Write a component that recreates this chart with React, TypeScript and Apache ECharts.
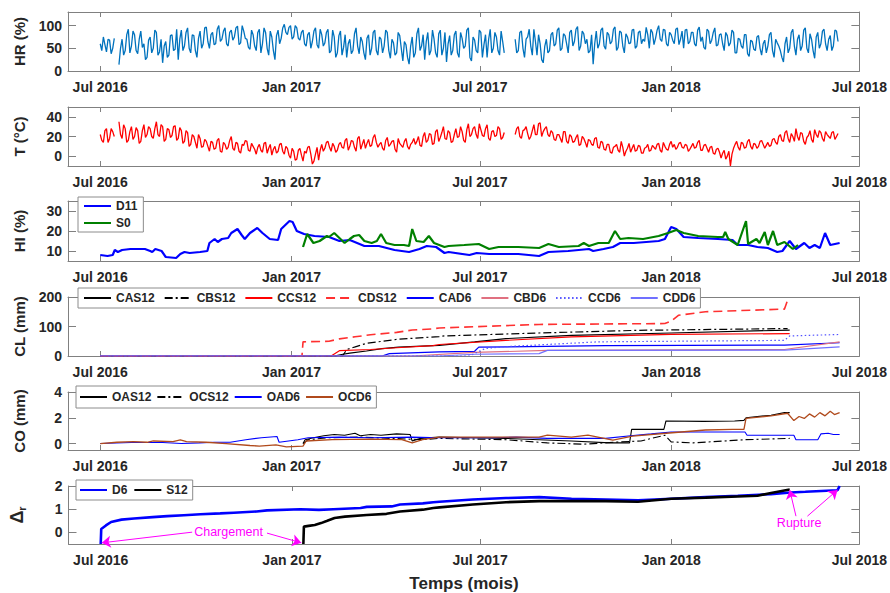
import React, { useEffect, useRef } from "react";
import * as echarts from "echarts";

// ---- x axis (days since 2016-07-01) ----
const X_MIN = -31;
const X_MAX = 730;
const X_TICK_DAYS = [0, 184, 365, 549, 730];
const X_TICK_LABELS = ["Jul 2016", "Jan 2017", "Jul 2017", "Jan 2018", "Jul 2018"];

// ---- HR (%) and T (°C): readings every 3 days from 2016-07-01 (A) and 1.5 days later (B) ----
const MET_START = 0;
const MET_STEP = 3;
const HR_A = [
  60, 75, 42, 68, 50, null, 14, 70, 45, 92,
  55, 80, 38, 88, 60, 30, 75, 50, 85, 42,
  18, 65, 35, 80, 48, 25, 90, 55, 95, 40,
  78, 30, 88, 60, 97, 50, 85, 60, 100, 70,
  95, 55, 90, 75, 99, 62, 88, 70, 48, 80,
  45, 92, 60, 85, 35, 75, 25, 90, 72, 103,
  80, 100, 75, 95, 68, 90, 55, 85, 65, 95,
  50, 80, 62, 92, 45, 75, 40, 88, 52, 30,
  70, 45, 95, 38, 65, 25, 80, 50, 90, 35,
  70, 55, 85, 28, 62, 40, 78, 22, 58, 15,
  75, 40, 95, 55, 25, 85, 45, 70, 30, 90,
  50, 20, 78, 45, 88, 30, 72, 55, 95, 22,
  68, 40, 85, 58, 30, 92, 50, 75, 35, 65,
  null, null, null, 70, 45, 88, 30, 75, 55, 92,
  35, 60, 18, 70, 45, 85, 60, 95, 50, 78,
  40, 90, 65, 98, 55, 82, 70, 45, 15, 88,
  60, 95, 48, 80, 65, 97, 52, 85, 40, 75,
  62, 92, 55, 88, 70, 96, 50, 85, 72, 100,
  65, 90, 55, 80, 60, 95, 70, 50, 92, 65,
  85, 55, 97, 75, 48, 88, 68, 95, 58, 82,
  45, 78, 62, 85, 40, 70, 50, 80, 32, 65,
  45, 78, 35, 68, 55, 85, 30, 62, 45, 20,
  75, 50, 92, 35, 80, 55, 95, 40, 70, 28,
  85, 60, 92, 45, 78, 55, 88,
];
const HR_B = [
  45, 58, 70, 38, 72, null, 50, 35, 80, 40,
  88, 45, 70, 52, 25, 68, 40, 90, 35, 70,
  55, 30, 78, 45, 92, 70, 45, 85, 50, 80,
  45, 72, 50, 95, 65, 80, 58, 92, 65, 88,
  60, 85, 68, 95, 58, 100, 72, 52, 90, 55,
  85, 40, 95, 50, 88, 45, 78, 60, 95, 85,
  96, 70, 100, 72, 85, 60, 80, 50, 88, 58,
  92, 55, 85, 40, 90, 30, 78, 35, 80, 60,
  38, 82, 55, 75, 40, 72, 35, 85, 45, 75,
  40, 90, 45, 70, 35, 85, 50, 65, 30, 55,
  30, 82, 45, 80, 65, 35, 90, 40, 82, 35,
  85, 60, 35, 80, 40, 85, 50, 90, 30, 75,
  45, 90, 30, 80, 70, 40, 85, 45, 88, 40,
  null, null, null, 40, 85, 50, 70, 92, 35, 65,
  80, 25, 55, 40, 80, 55, 90, 45, 82, 60,
  85, 55, 92, 45, 88, 60, 40, 80, 60, 50,
  90, 55, 85, 60, 92, 45, 88, 55, 82, 60,
  90, 50, 85, 60, 65, 80, 92, 58, 90, 70,
  92, 60, 85, 68, 92, 58, 88, 90, 60, 85,
  60, 90, 65, 52, 92, 60, 85, 55, 80, 60,
  85, 55, 90, 40, 72, 55, 80, 38, 68, 48,
  75, 50, 60, 40, 80, 45, 70, 55, 30, 60,
  40, 85, 55, 70, 45, 90, 50, 82, 45, 75,
  50, 88, 60, 70, 45, 90, 65,
];
const T_A = [
  22, 14, 28, 18, 25, null, 35, 18, 28, 16,
  30, 20, 26, 15, 32, 22, 28, 18, 35, 20,
  30, 17, 27, 21, 31, 18, 26, 15, 24, 12,
  20, 8, 18, 10, 15, 5, 14, 8, 18, 4,
  12, 9, 20, 6, 13, 3, 11, 15, 5, 10,
  2, 12, 4, 14, 8, 1, 10, 5, 13, 2,
  8, -2, 5, -3, 8, -5, 3, 10, -8, 2,
  -4, 12, 8, 15, 5, 10, 6, 14, 8, 18,
  10, 15, 5, 20, 12, 8, 17, 11, 22, 9,
  14, 6, 19, 12, 16, 4, 13, 9, 18, 7,
  14, 12, 20, 10, 24, 16, 22, 13, 27, 19,
  30, 17, 24, 15, 28, 20, 25, 14, 33, 22,
  30, 18, 27, 20, 32, 16, 26, 21, 28, 19,
  null, null, null, 22, 30, 18, 27, 23, 20, 32,
  22, 34, 25, 30, 20, 24, 16, 22, 14, 25,
  13, 20, 15, 22, 12, 18, 9, 16, 11, 19,
  8, 14, 6, 12, 3, 10, 6, 15, 0, 8,
  4, 12, 6, 10, 3, 9, 5, 11, 7, 13,
  4, 10, 6, 15, 12, 9, 14, 8, 11, 7,
  13, 9, 16, 6, 12, 4, 10, 2, 8, -2,
  6, 0, -10, 8, 15, 6, 13, 9, 17, 7,
  12, 10, 16, 8, 14, 11, 18, 12, 22, 15,
  26, 14, 20, 28, 16, 23, 12, 21, 17, 27,
  19, 24, 15, 22, 18, 25, 20,
];
const T_B = [
  16, 26, 14, 28, 20, null, 22, 32, 14, 25,
  17, 29, 13, 26, 19, 30, 20, 28, 22, 32,
  15, 28, 19, 30, 16, 29, 13, 26, 10, 22,
  14, 22, 9, 17, 10, 15, 7, 16, 5, 14,
  7, 16, 8, 14, 5, 12, 16, 6, 13, 7,
  9, 6, 13, 3, 12, 7, 3, 12, 5, 10,
  1, 8, -4, 6, 1, 5, 9, 2, -5, 9,
  6, 5, 14, 9, 13, 4, 12, 9, 16, 6,
  16, 9, 18, 7, 17, 13, 10, 19, 14, 12,
  8, 16, 10, 15, 7, 18, 11, 15, 10, 12,
  18, 15, 11, 20, 14, 23, 12, 25, 15, 24,
  18, 26, 14, 22, 19, 30, 16, 27, 20, 28,
  22, 33, 21, 28, 18, 25, 20, 30, 17, 24,
  null, null, null, 28, 20, 26, 30, 17, 26, 22,
  33, 20, 28, 22, 26, 17, 22, 18, 25, 15,
  22, 14, 19, 11, 20, 14, 17, 12, 18, 9,
  15, 7, 12, 4, 9, 12, 4, 9, 5, 13,
  8, 5, 11, 3, 8, 12, 6, 9, 12, 6,
  14, 7, 12, 9, 7, 13, 9, 12, 5, 10,
  8, 14, 6, 11, 8, 9, 3, 7, 4, 3,
  -3, 5, 2, 12, 9, 14, 8, 15, 10, 13,
  8, 15, 12, 11, 10, 17, 14, 20, 16, 24,
  18, 23, 15, 20, 24, 15, 19, 26, 14, 22,
  26, 18, 25, 20, 24, 17, 23,
];

// ---- HI (%) : [day, value] ----
const D11 = [
  [0, 8], [7, 7.5], [12, 8], [14, 10.5], [17, 9.5], [21, 10.5], [29, 11], [43, 11], [48, 10], [50, 9.5],
  [53, 11], [59, 10], [63, 7], [73, 6.5], [77, 8.5], [81, 9.5], [86, 9], [96, 9.5], [103, 10], [105, 14],
  [110, 16], [113, 14.5], [117, 16], [123, 16.5], [126, 19], [132, 21], [136, 18], [139, 16], [144, 19], [151, 21.5],
  [156, 19], [163, 16], [171, 15.5], [174, 21], [182, 25], [185, 24.5], [189, 20], [196, 18.5], [206, 17.5], [220, 17],
  [230, 15], [240, 15.5], [254, 12.5], [268, 12.5], [283, 10.5], [297, 9.5], [307, 11], [314, 12.5], [323, 12], [331, 9],
  [335, 9.5], [355, 8], [362, 9], [374, 8.5], [402, 8.5], [422, 7.5], [431, 9.5], [450, 10], [470, 11], [474, 10],
  [484, 11], [493, 12], [500, 14], [513, 14], [537, 15], [543, 16], [549, 22], [554, 21], [561, 17], [575, 16.5],
  [594, 16], [608, 15.5], [613, 13], [623, 13], [632, 12], [642, 11.5], [651, 9.5], [656, 10], [663, 15], [669, 11],
  [677, 14], [682, 11.5], [687, 13], [692, 11.5], [697, 19], [702, 13], [711, 14],
];
const S0 = [
  [195, 12], [199, 18.5], [205, 14], [211, 15], [218, 17.5], [220, 17], [225, 19], [230, 16.5], [235, 14], [240, 16],
  [244, 17.5], [249, 18], [254, 15], [261, 14], [266, 15], [270, 18.5], [275, 14], [283, 13], [292, 13], [297, 12.5],
  [300, 21], [304, 15], [311, 14.5], [316, 17.5], [321, 14], [331, 12], [335, 12.5], [350, 13], [364, 13.5], [374, 11],
  [383, 12], [402, 12], [422, 11.5], [431, 13.5], [441, 12], [460, 12.5], [465, 14], [470, 12.5], [479, 14], [489, 14],
  [495, 20], [500, 16], [508, 16.5], [522, 16], [537, 17.5], [546, 19], [554, 20.5], [561, 19], [575, 17.5], [594, 17],
  [599, 17], [601, 19.5], [604, 16], [613, 13], [621, 25], [623, 13.5], [631, 16], [634, 14], [639, 19.5], [642, 13],
  [647, 20], [651, 13], [658, 14.5], [666, 11], [671, 13],
];

// ---- CL (mm) ----
const CAS12 = [[0, 0], [225, 0], [232, 5], [240, 10], [256, 17], [271, 25], [287, 30], [326, 36], [360, 48], [390, 59], [453, 70], [549, 78], [663, 88]];
const CBS12 = [[0, 0], [233, 0], [237, 22], [246, 32], [256, 43], [287, 57], [326, 66], [331, 68], [422, 78], [517, 87], [661, 93]];
const CCS12 = [[0, 0], [222, 0], [230, 18], [260, 22], [285, 28], [320, 35], [326, 39], [390, 53], [453, 65], [549, 73], [663, 76]];
const CDS12 = [[0, 0], [194, 0], [195, 48], [220, 50], [230, 58], [245, 65], [260, 72], [285, 80], [300, 88], [320, 92], [326, 95], [422, 107], [543, 110], [549, 118], [556, 138], [582, 150], [658, 159], [662, 200]];
const CAD6 = [[0, 0], [271, 0], [278, 8], [326, 14], [360, 16], [364, 30], [486, 35], [658, 37], [711, 45]];
const CBD6 = [[0, 0], [300, 0], [360, 12], [430, 19], [658, 22], [711, 48]];
const CCD6 = [[0, 0], [355, 0], [370, 25], [385, 31], [479, 48], [658, 53], [663, 68], [711, 73]];
const CDD6 = [[0, 0], [326, 0], [360, 6], [422, 8], [430, 19], [658, 20], [711, 31]];

// ---- CO (mm) ----
const OAS12 = [[195, 0], [197, 0.3], [205, 0.45], [215, 0.6], [225, 0.7], [235, 0.65], [245, 0.8], [250, 0.6], [260, 0.7], [270, 0.65], [285, 0.75], [298, 0.7], [300, 0.2], [308, 0.4], [326, 0.5], [358, 0.45], [390, 0.4], [422, 0.3], [453, 0.2], [490, 0.05], [509, 0.05], [511, 1.1], [542, 1.1], [544, 1.75], [580, 1.72], [610, 1.75], [619, 1.8], [621, 2.0], [645, 2.2], [658, 2.4], [663, 2.4]];
const OCS12 = [[195, 0], [200, 0.3], [220, 0.45], [250, 0.5], [280, 0.4], [310, 0.3], [326, 0.4], [390, 0.3], [430, 0.05], [465, -0.05], [500, 0.13], [520, 0.2], [543, 0.65], [549, 0.13], [570, 0.05], [620, 0.3], [663, 0.4]];
const OAD6 = [[0, 0], [30, 0.08], [60, 0.08], [78, 0], [95, 0.05], [110, 0.1], [125, 0.1], [140, 0.3], [155, 0.45], [170, 0.55], [172, 0.1], [190, 0.3], [200, 0.45], [230, 0.5], [260, 0.45], [300, 0.5], [326, 0.45], [380, 0.45], [400, 0.5], [430, 0.4], [486, 0.4], [510, 0.6], [530, 0.75], [549, 0.9], [620, 0.9], [622, 0.65], [667, 0.65], [669, 0.3], [690, 0.3], [693, 0.75], [700, 0.8], [705, 0.7], [711, 0.7]];
const OCD6 = [[0, 0], [16, 0.1], [32, 0.15], [45, 0.1], [51, 0.2], [70, 0.15], [77, 0.28], [83, 0.15], [102, 0.1], [121, 0], [144, -0.15], [153, -0.2], [169, -0.1], [179, -0.25], [195, -0.2], [198, 0.2], [223, 0.3], [260, 0.35], [290, 0.3], [300, 0.05], [310, 0.3], [326, 0.5], [422, 0.5], [430, 0.65], [453, 0.5], [469, 0.65], [493, 0.26], [512, 0.57], [550, 0.84], [582, 1.05], [608, 1.1], [619, 1.1], [621, 1.96], [645, 2.15], [661, 2.35], [667, 1.78], [672, 2.1], [677, 1.95], [682, 2.3], [687, 2.05], [692, 2.4], [697, 2.15], [702, 2.5], [706, 2.25], [711, 2.4]];

// ---- Δr ----
const D6 = [[0, -0.5], [0.5, 0.15], [5, 0.3], [10, 0.45], [20, 0.55], [32, 0.6], [50, 0.66], [64, 0.7], [80, 0.74], [96, 0.78], [115, 0.82], [128, 0.85], [150, 0.9], [160, 0.95], [192, 1.0], [210, 0.97], [224, 1.0], [250, 1.05], [256, 1.1], [280, 1.12], [288, 1.2], [310, 1.25], [320, 1.3], [326, 1.32], [358, 1.42], [390, 1.48], [422, 1.52], [453, 1.45], [486, 1.42], [517, 1.38], [549, 1.45], [582, 1.52], [613, 1.58], [645, 1.65], [664, 1.72], [678, 1.75], [709, 1.82], [711, 2.0]];
const S12 = [[195, -0.5], [195.5, 0.25], [200, 0.28], [206, 0.32], [212, 0.4], [218, 0.5], [225, 0.62], [235, 0.68], [256, 0.75], [275, 0.8], [288, 0.9], [310, 0.98], [320, 1.05], [326, 1.08], [358, 1.2], [390, 1.3], [422, 1.35], [453, 1.35], [486, 1.35], [517, 1.32], [549, 1.45], [582, 1.5], [613, 1.55], [632, 1.58], [645, 1.7], [663, 1.85]];

// annotations (data coordinates of panel Δr)
const CHARGEMENT_TEXT = [123, 0.0];
const CHARGEMENT_ARROWS = [[[88, 0.01], [1, -0.45]], [[160, -0.03], [193, -0.45]]];
const RUPTURE_TEXT = [672, 0.39];
const RUPTURE_ARROWS = [[[669, 0.7], [663, 1.83]], [[680, 0.7], [709, 1.83]]];

const FONT = "'Liberation Sans', Arial, Helvetica, sans-serif";
const TXT = "#262626";
const AX = "#808080";

const PANELS = [
  { top: 12, h: 59, min: 0, max: 130, ticks: [0, 50, 100], name: "HR (%)" },
  { top: 107, h: 59, min: -10, max: 50, ticks: [0, 20, 40], name: "T (°C)" },
  { top: 201, h: 60, min: 5, max: 35, ticks: [10, 20, 30], name: "HI (%)" },
  { top: 297, h: 59, min: 0, max: 200, ticks: [0, 100, 200], name: "CL (mm)" },
  { top: 392, h: 58, min: -0.5, max: 4, ticks: [0, 2, 4], name: "CO (mm)" },
  { top: 486, h: 59, min: -0.5, max: 2, ticks: [0, 1, 2], name: "{a|Δ}{b|r}" },
];

function xLabel(v: number) {
  let best = 0;
  for (let i = 0; i < X_TICK_DAYS.length; i++) {
    if (Math.abs(X_TICK_DAYS[i] - v) < Math.abs(X_TICK_DAYS[best] - v)) best = i;
  }
  return X_TICK_LABELS[best];
}

function buildOption() {
  const grid: any[] = [];
  const xAxis: any[] = [];
  const yAxis: any[] = [];
  PANELS.forEach((p, i) => {
    grid.push({ left: 68, right: 28, top: p.top, height: p.h, show: false });
    const xc = {
      type: "value", gridIndex: i, min: X_MIN, max: X_MAX, splitLine: { show: false },
      axisLine: { show: true, onZero: false, lineStyle: { color: AX } },
      axisTick: { show: true, inside: true, length: 5, customValues: X_TICK_DAYS, lineStyle: { color: AX } },
    };
    const last = i === PANELS.length - 1;
    xAxis.push({
      ...xc, position: "bottom",
      axisLabel: {
        show: true, customValues: X_TICK_DAYS, formatter: (v: number) => xLabel(v), color: TXT,
        fontWeight: "bold", fontSize: 14, fontFamily: FONT, margin: 9, showMinLabel: true, showMaxLabel: true,
      },
      ...(last ? {
        name: "Temps (mois)", nameLocation: "middle", nameGap: 31,
        nameTextStyle: { color: TXT, fontWeight: "bold", fontSize: 17, fontFamily: FONT },
      } : {}),
    });
    xAxis.push({ ...xc, position: "top", axisLabel: { show: false } });
    const yc = {
      type: "value", gridIndex: i, min: p.min, max: p.max, splitLine: { show: false },
      axisLine: { show: true, onZero: false, lineStyle: { color: AX } },
      axisTick: { show: true, inside: true, length: 8, customValues: p.ticks, lineStyle: { color: AX } },
    };
    yAxis.push({
      ...yc, position: "left",
      axisLabel: { show: true, customValues: p.ticks, color: TXT, fontWeight: "bold", fontSize: 14, fontFamily: FONT, margin: 6 },
      name: p.name, nameLocation: "middle", nameGap: 41,
      nameTextStyle: {
        color: TXT, fontWeight: "bold", fontSize: 15, fontFamily: FONT,
        rich: {
          a: { color: TXT, fontWeight: "bold", fontSize: 18, fontFamily: FONT },
          b: { color: TXT, fontWeight: "bold", fontSize: 11, fontFamily: FONT, padding: [10, 0, 0, 0] },
        },
      },
    });
    yAxis.push({ ...yc, position: "right", axisLabel: { show: false } });
  });

  const line = (name: string, data: any[], panel: number, color: string, width: number, type: any = "solid", extra: any = {}) => ({
    name, type: "line", data, xAxisIndex: panel * 2, yAxisIndex: panel * 2, symbol: "none", showSymbol: false,
    silent: true, connectNulls: false, lineStyle: { color, width, type }, itemStyle: { color }, z: 3, ...extra,
  });

  const met = (a: (number | null)[], b: (number | null)[]) => {
    const out: any[] = [];
    a.forEach((v, k) => {
      const d = MET_START + k * MET_STEP;
      out.push([d, v === null ? "-" : v]);
      if (k < b.length) out.push([d + MET_STEP / 2, b[k] === null ? "-" : b[k]]);
    });
    return out;
  };

  const arrowLines = (arrs: number[][][]) => arrs.map((a) => [{ coord: a[0] }, { coord: a[1] }]);

  const series: any[] = [
    line("HR", met(HR_A, HR_B), 0, "#0072BD", 1.3),
    line("T", met(T_A, T_B), 1, "#FF0000", 1.3),
    line("D11", D11, 2, "#0000FF", 2.2),
    line("S0", S0, 2, "#008000", 2.2),
    line("CAS12", CAS12, 3, "#000000", 1.2),
    line("CBS12", CBS12, 3, "#000000", 1.2, [8, 3, 2, 3]),
    line("CCS12", CCS12, 3, "#FF0000", 1.2),
    line("CDS12", CDS12, 3, "#FF3030", 1.6, [9, 5]),
    line("CAD6", CAD6, 3, "#0000FF", 1.2),
    line("CBD6", CBD6, 3, "#E07080", 1.2),
    line("CCD6", CCD6, 3, "#5050FF", 1.2, [1.5, 2.5]),
    line("CDD6", CDD6, 3, "#7070FF", 1.2),
    line("OAS12", OAS12, 4, "#000000", 1.1),
    line("OCS12", OCS12, 4, "#000000", 1.1, [8, 3, 2, 3]),
    line("OAD6", OAD6, 4, "#0000FF", 1.1),
    line("OCD6", OCD6, 4, "#B04A1C", 1.3),
    line("D6", D6, 5, "#0000FF", 2.6, "solid", {
      markLine: {
        silent: true, symbol: ["none", "arrow"], symbolSize: 9, label: { show: false },
        lineStyle: { color: "#FF00FF", width: 1, type: "solid" },
        data: [...arrowLines(CHARGEMENT_ARROWS), ...arrowLines(RUPTURE_ARROWS)],
      },
      markPoint: {
        silent: true, symbol: "circle", symbolSize: 1, itemStyle: { color: "rgba(0,0,0,0)" },
        label: { show: true, position: "inside", color: "#FF00FF", fontSize: 12.5, fontFamily: FONT, formatter: (p: any) => p.name },
        data: [
          { name: "Chargement", coord: CHARGEMENT_TEXT },
          { name: "Rupture", coord: RUPTURE_TEXT },
        ],
      },
    }),
    line("S12", S12, 5, "#000000", 2.6),
  ];

  const legendBase = {
    selectedMode: false, backgroundColor: "#ffffff", borderColor: "#8c8c8c", borderWidth: 1, borderRadius: 0,
    itemWidth: 27, itemHeight: 12, itemStyle: { opacity: 0 },
    textStyle: { color: TXT, fontWeight: "bold", fontSize: 12, fontFamily: FONT },
  };
  const legend = [
    { ...legendBase, data: ["D11", "S0"], orient: "vertical", left: 78, top: 197, itemGap: 5, padding: [3, 6, 3, 5] },
    { ...legendBase, data: ["CAS12", "CBS12", "CCS12", "CDS12", "CAD6", "CBD6", "CCD6", "CDD6"], orient: "horizontal", left: 78, top: 288, itemGap: 9, padding: [4, 5, 4, 5] },
    { ...legendBase, data: ["OAS12", "OCS12", "OAD6", "OCD6"], orient: "horizontal", left: 76, top: 386, itemGap: 5, padding: [5, 5, 5, 3] },
    { ...legendBase, data: ["D6", "S12"], orient: "horizontal", left: 76, top: 480, itemGap: 6, padding: [4, 5, 4, 3] },
  ];

  return { animation: false, backgroundColor: "#ffffff", grid, xAxis, yAxis, series, legend };
}

export default function App() {
  const ref = useRef<HTMLDivElement>(null);
  useEffect(() => {
    if (!ref.current) return;
    const chart = echarts.init(ref.current, undefined, { renderer: "svg" });
    chart.setOption(buildOption() as any);
    return () => chart.dispose();
  }, []);
  return <div ref={ref} style={{ position: "fixed", left: 0, top: 0, width: 890, height: 593, background: "#fff" }} />;
}
